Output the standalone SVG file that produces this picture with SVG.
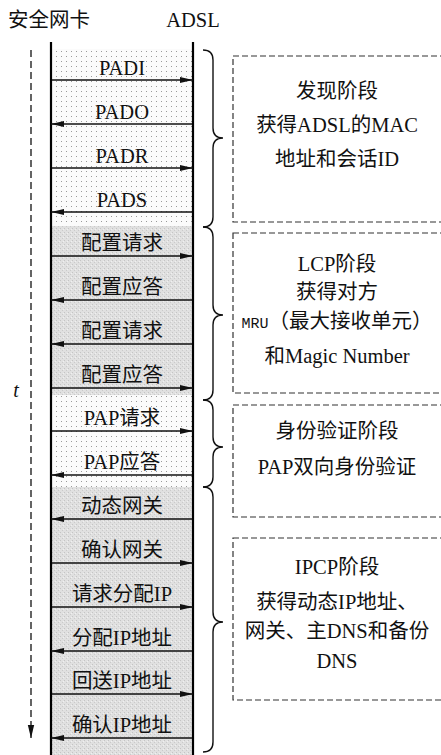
<svg xmlns="http://www.w3.org/2000/svg" width="441" height="755" viewBox="0 0 441 755">
<style>
.t{font-family:"Liberation Serif","Noto Sans CJK SC",serif;font-size:20.5px;fill:#111;text-anchor:middle}
.m{font-family:"Liberation Serif","Noto Sans CJK SC",serif;font-size:20.5px;fill:#111;text-anchor:middle}
.life{stroke:#000;stroke-width:2.2;fill:none}
.msg{stroke:#111;stroke-width:1.4;fill:none}
.r{marker-end:url(#ah)}
.brace{stroke:#111;stroke-width:1.4;fill:none}
.box{stroke:#333;stroke-width:1.2;stroke-dasharray:6 3;fill:none}
</style>
<defs>
<pattern id="dots" width="5" height="5" patternUnits="userSpaceOnUse">
<rect width="5" height="5" fill="#fbfbfb"/>
<rect x="1" y="1" width="1" height="1" fill="#9a9a9a"/>
</pattern>
<pattern id="gray" width="4" height="4" patternUnits="userSpaceOnUse">
<rect width="4" height="4" fill="#e0e0e0"/>
<rect x="0" y="0" width="1" height="1" fill="#c4c4c4"/>
<rect x="2" y="2" width="1" height="1" fill="#cacaca"/>
<rect x="3" y="1" width="1" height="1" fill="#f0f0f0"/>
</pattern>
<marker id="ah" markerUnits="userSpaceOnUse" markerWidth="14" markerHeight="8" refX="13" refY="4" orient="auto">
<path d="M0,1 L13,4 L0,7 Z" fill="#111"/>
</marker>
<marker id="ahd" markerUnits="userSpaceOnUse" markerWidth="10" markerHeight="14" refX="5" refY="13" orient="0">
<path d="M1.8,0 L5,13 L8.2,0 Z" fill="#111"/>
</marker>
</defs>

<g id="bands">
<rect x="52" y="49" width="140" height="177" fill="url(#dots)"/>
<rect x="52" y="226" width="140" height="169" fill="url(#gray)"/>
<rect x="52" y="395" width="140" height="92" fill="url(#dots)"/>
<rect x="52" y="487" width="140" height="268" fill="url(#gray)"/>
</g>

<g id="participants">
<g id="nic"><text class="t" x="49" y="27">安全网卡</text><line class="life" x1="51" y1="42" x2="51" y2="755"/></g>
<g id="adsl"><text class="t" x="193" y="27">ADSL</text><line class="life" x1="193" y1="42" x2="193" y2="755"/></g>
</g>

<g id="time">
<line x1="31" y1="50" x2="31" y2="738" stroke="#111" stroke-width="1.3" stroke-dasharray="7 4" marker-end="url(#ahd)"/>
<text x="16" y="397" font-family="Liberation Serif,serif" font-style="italic" font-size="20" fill="#111" text-anchor="middle">t</text>
</g>

<g id="connectors">
<line class="msg r" x1="52" y1="80" x2="193" y2="80"/>
<line class="msg r" x1="192" y1="124" x2="51" y2="124"/>
<line class="msg r" x1="52" y1="168" x2="193" y2="168"/>
<line class="msg r" x1="192" y1="212" x2="51" y2="212"/>
<line class="msg r" x1="52" y1="256" x2="193" y2="256"/>
<line class="msg r" x1="192" y1="300" x2="51" y2="300"/>
<line class="msg r" x1="192" y1="344" x2="51" y2="344"/>
<line class="msg r" x1="52" y1="388" x2="193" y2="388"/>
<line class="msg r" x1="52" y1="431" x2="193" y2="431"/>
<line class="msg r" x1="192" y1="475" x2="51" y2="475"/>
<line class="msg r" x1="192" y1="519" x2="51" y2="519"/>
<line class="msg r" x1="52" y1="563" x2="193" y2="563"/>
<line class="msg r" x1="52" y1="607" x2="193" y2="607"/>
<line class="msg r" x1="192" y1="651" x2="51" y2="651"/>
<line class="msg r" x1="52" y1="694" x2="193" y2="694"/>
<line class="msg r" x1="192" y1="738" x2="51" y2="738"/>
</g>

<g id="messages">
<text class="m" x="122" y="75">PADI</text>
<text class="m" x="122" y="119">PADO</text>
<text class="m" x="122" y="163">PADR</text>
<text class="m" x="122" y="207">PADS</text>
<text class="m" x="122" y="250">配置请求</text>
<text class="m" x="122" y="294">配置应答</text>
<text class="m" x="122" y="338">配置请求</text>
<text class="m" x="122" y="382">配置应答</text>
<text class="m" x="122" y="425">PAP请求</text>
<text class="m" x="122" y="469">PAP应答</text>
<text class="m" x="122" y="513">动态网关</text>
<text class="m" x="122" y="557">确认网关</text>
<text class="m" x="122" y="601">请求分配IP</text>
<text class="m" x="122" y="645">分配IP地址</text>
<text class="m" x="122" y="688">回送IP地址</text>
<text class="m" x="122" y="732">确认IP地址</text>
</g>

<g id="braces">
<path class="brace" d="M203,50 Q213,50 213,60 L213,128 Q213,138 223,138 Q213,138 213,148 L213,217 Q213,227 203,227"/>
<path class="brace" d="M203,227 Q213,227 213,237 L213,305 Q213,315 223,315 Q213,315 213,325 L213,390 Q213,400 203,400"/>
<path class="brace" d="M203,400 Q213,400 213,410 L213,437 Q213,447 223,447 Q213,447 213,457 L213,477 Q213,487 203,487"/>
<path class="brace" d="M203,487 Q213,487 213,497 L213,612 Q213,622 223,622 Q213,622 213,632 L213,742 Q213,752 203,752"/>
</g>

<g id="discovery">
<rect class="box" x="233" y="56" width="230" height="166"/>
<text class="t" x="337" y="98">发现阶段</text>
<text class="t" x="337" y="132">获得ADSL的MAC</text>
<text class="t" x="337" y="166">地址和会话ID</text>
</g>
<g id="lcp">
<rect class="box" x="233" y="233" width="230" height="160"/>
<text class="t" x="337" y="271">LCP阶段</text>
<text class="t" x="337" y="299">获得对方</text>
<text class="t" x="337" y="328"><tspan font-family="Liberation Mono,monospace" font-size="15">MRU</tspan>（最大接收单元）</text>
<text class="t" x="337" y="363">和Magic Number</text>
</g>
<g id="auth">
<rect class="box" x="233" y="405" width="230" height="112"/>
<text class="t" x="337" y="438">身份验证阶段</text>
<text class="t" x="337" y="474">PAP双向身份验证</text>
</g>
<g id="ipcp">
<rect class="box" x="233" y="538" width="230" height="162"/>
<text class="t" x="337" y="574">IPCP阶段</text>
<text class="t" x="337" y="609">获得动态IP地址、</text>
<text class="t" x="337" y="638">网关、主DNS和备份</text>
<text class="t" x="337" y="668">DNS</text>
</g>
</svg>
